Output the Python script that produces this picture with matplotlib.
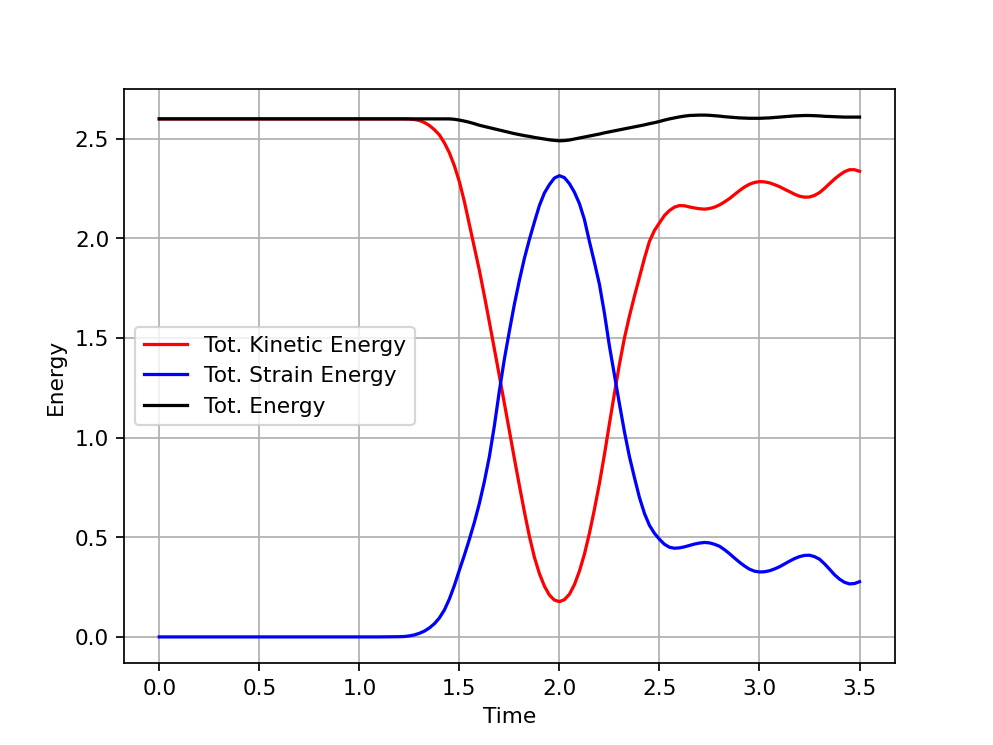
import matplotlib
matplotlib.use("Agg")
import matplotlib.pyplot as plt

time = [0.0, 0.5, 1.0, 1.1,
        1.200, 1.225, 1.250, 1.275, 1.300, 1.325, 1.350, 1.375, 1.400, 1.425,
        1.450, 1.475, 1.500, 1.525, 1.550, 1.575, 1.600, 1.625, 1.650, 1.675,
        1.700, 1.725, 1.750, 1.775, 1.800, 1.825, 1.850, 1.875, 1.900, 1.925,
        1.950, 1.975, 2.000, 2.025, 2.050, 2.075, 2.100, 2.125, 2.150, 2.175,
        2.200, 2.225, 2.250, 2.275, 2.300, 2.325, 2.350, 2.375, 2.400, 2.425,
        2.450, 2.475, 2.500, 2.525, 2.550, 2.575, 2.600, 2.625, 2.650, 2.675,
        2.700, 2.725, 2.750, 2.775, 2.800, 2.825, 2.850, 2.875, 2.900, 2.925,
        2.950, 2.975, 3.000, 3.025, 3.050, 3.075, 3.100, 3.125, 3.150, 3.175,
        3.200, 3.225, 3.250, 3.275, 3.300, 3.325, 3.350, 3.375, 3.400, 3.425,
        3.450, 3.475, 3.500]

kinetic = [2.600, 2.600, 2.600, 2.600,
           2.600, 2.600, 2.599, 2.597, 2.592, 2.582, 2.567, 2.546, 2.520, 2.480,
           2.430, 2.365, 2.285, 2.185, 2.070, 1.955, 1.840, 1.712, 1.580, 1.445,
           1.310, 1.172, 1.034, 0.895, 0.760, 0.628, 0.505, 0.400, 0.318, 0.255,
           0.210, 0.185, 0.177, 0.187, 0.214, 0.262, 0.330, 0.415, 0.520, 0.640,
           0.770, 0.915, 1.070, 1.222, 1.368, 1.500, 1.610, 1.710, 1.805, 1.900,
           1.985, 2.040, 2.078, 2.115, 2.140, 2.157, 2.165, 2.164, 2.158, 2.153,
           2.149, 2.147, 2.150, 2.157, 2.168, 2.183, 2.200, 2.220, 2.240, 2.258,
           2.272, 2.281, 2.285, 2.284, 2.279, 2.270, 2.260, 2.247, 2.235, 2.222,
           2.212, 2.207, 2.208, 2.216, 2.230, 2.251, 2.275, 2.298, 2.318, 2.335,
           2.345, 2.345, 2.337]

strain = [0.000, 0.000, 0.000, 0.000,
          0.001, 0.002, 0.005, 0.010, 0.018, 0.029, 0.045, 0.066, 0.095, 0.135,
          0.190, 0.258, 0.335, 0.410, 0.490, 0.575, 0.670, 0.780, 0.905, 1.060,
          1.235, 1.395, 1.535, 1.670, 1.790, 1.900, 1.995, 2.082, 2.165, 2.228,
          2.270, 2.303, 2.315, 2.305, 2.275, 2.232, 2.175, 2.095, 1.985, 1.880,
          1.770, 1.625, 1.460, 1.315, 1.170, 1.030, 0.905, 0.800, 0.700, 0.620,
          0.560, 0.520, 0.490, 0.465, 0.450, 0.445, 0.447, 0.452, 0.459, 0.466,
          0.471, 0.474, 0.472, 0.465, 0.455, 0.438, 0.418, 0.396, 0.375, 0.356,
          0.340, 0.330, 0.326, 0.327, 0.332, 0.341, 0.352, 0.366, 0.380, 0.393,
          0.403, 0.409, 0.410, 0.403, 0.390, 0.367, 0.340, 0.312, 0.290, 0.274,
          0.266, 0.268, 0.277]

total = [2.600, 2.600, 2.600, 2.600,
         2.600, 2.600, 2.600, 2.600, 2.600, 2.600, 2.600, 2.600, 2.600, 2.600,
         2.600, 2.598, 2.594, 2.589, 2.583, 2.576, 2.568, 2.562, 2.556, 2.550,
         2.544, 2.538, 2.532, 2.526, 2.521, 2.516, 2.512, 2.507, 2.503, 2.499,
         2.495, 2.492, 2.490, 2.491, 2.494, 2.499, 2.504, 2.509, 2.514, 2.519,
         2.524, 2.530, 2.535, 2.540, 2.545, 2.550, 2.555, 2.560, 2.565, 2.570,
         2.576, 2.581, 2.587, 2.594, 2.600, 2.605, 2.610, 2.614, 2.617, 2.618,
         2.619, 2.619, 2.618, 2.616, 2.614, 2.611, 2.609, 2.607, 2.605, 2.604,
         2.603, 2.603, 2.603, 2.604, 2.605, 2.607, 2.609, 2.611, 2.613, 2.615,
         2.616, 2.617, 2.617, 2.616, 2.615, 2.613, 2.612, 2.611, 2.610, 2.609,
         2.609, 2.609, 2.609]

fig = plt.figure(figsize=(6.4, 4.8), dpi=155.3)
ax = fig.add_subplot(111)
ax.plot(time, kinetic, color='r', label='Tot. Kinetic Energy')
ax.plot(time, strain, color='b', label='Tot. Strain Energy')
ax.plot(time, total, color='k', label='Tot. Energy')
ax.set_xlabel('Time')
ax.set_ylabel('Energy')
ax.grid(True)
ax.legend(loc='center left')
fig.savefig('out.png', dpi=155.3)
